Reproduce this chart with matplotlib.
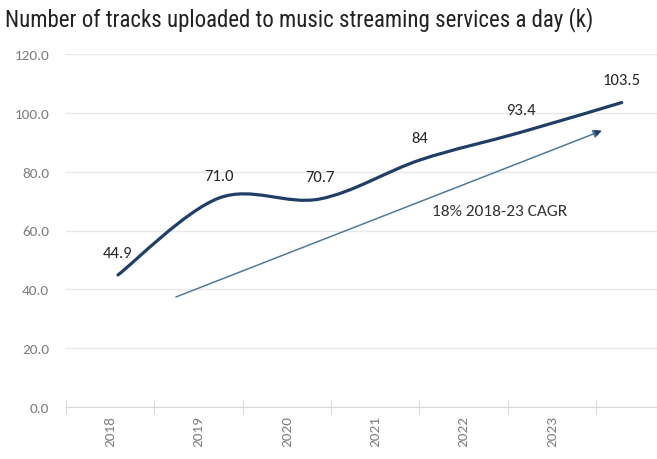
import numpy as np
import matplotlib.pyplot as plt
from matplotlib.path import Path
from matplotlib.patches import PathPatch

# Datos del grafico
anios = ['2018', '2019', '2020', '2021', '2022', '2023']
pistas = [44.9, 71.0, 70.7, 84.0, 93.4, 103.5]
etiquetas = ['44.9', '71.0', '70.7', '84', '93.4', '103.5']
yticks = [0, 20, 40, 60, 80, 100, 120]

azul = '#1f3f66'
gris = '#7f7f7f'
fuente = ['Carlito', 'Open Sans']

fig = plt.figure(figsize=(6.57, 4.6), dpi=100)
ax = fig.add_axes([66 / 657, 1 - 408 / 460, 1 - 66 / 657, (408 - 55) / 460])

# eje de categorias
ax.set_xlim(-0.5, 6.19)
ax.set_ylim(0, 120)
ax.set_xticks(range(len(anios)))
ax.set_xticklabels(anios, rotation=90, color=gris, fontsize=11, family=fuente)
ax.set_xticks(np.arange(-0.5, 6.0, 1.0), minor=True)
ax.tick_params(axis='x', which='major', length=0, pad=6)
ax.tick_params(axis='x', which='minor', length=10, direction='inout', color='#d0d0d0')
ax.set_yticks(yticks)
ax.set_yticklabels([f'{v:.1f}' for v in yticks], color=gris, fontsize=11, family=fuente)
ax.tick_params(axis='y', length=0, pad=12)
ax.grid(axis='y', color='#e8e8e8', linewidth=1)
for s in ['top', 'right', 'left']:
    ax.spines[s].set_visible(False)
ax.spines['bottom'].set_color('#d9d9d9')
ax.set_axisbelow(True)

# la linea va en otro eje x (como en la imagen original)
ax2 = ax.twiny()
ax2.set_xlim(-0.516, 5.35)
ax2.set_ylim(0, 120)
ax2.axis('off')

x = np.arange(len(pistas))
y = np.array(pistas)
# curva suavizada (estilo Excel) con Bezier
verts = [(x[0], y[0])]
codes = [Path.MOVETO]
n = len(x)
for i in range(n - 1):
    p0 = np.array([x[max(i - 1, 0)], y[max(i - 1, 0)]])
    p1 = np.array([x[i], y[i]])
    p2 = np.array([x[i + 1], y[i + 1]])
    p3 = np.array([x[min(i + 2, n - 1)], y[min(i + 2, n - 1)]])
    c1 = p1 + (p2 - p0) / 6
    c2 = p2 - (p3 - p1) / 6
    verts += [tuple(c1), tuple(c2), tuple(p2)]
    codes += [Path.CURVE4] * 3
ax2.add_patch(PathPatch(Path(verts, codes), facecolor='none', edgecolor=azul,
                        linewidth=2.3, capstyle='round'))

for xi, yi, t in zip(x, y, etiquetas):
    ax2.annotate(t, (xi, yi), xytext=(0, 16), textcoords='offset points',
                 ha='center', va='center', fontsize=12, color='#262626', family=fuente)

# flecha CAGR
ax2.annotate('', xy=(4.80, 93.9), xytext=(0.575, 37.4),
             arrowprops=dict(arrowstyle='-|>', color='#4f7a9a', lw=1.1,
                             mutation_scale=12, shrinkA=0, shrinkB=0))
ax2.annotate('', xy=(4.80, 93.9), xytext=(4.70, 92.6),
             arrowprops=dict(arrowstyle='-|>', color=azul, lw=0.1,
                             mutation_scale=12, shrinkA=0, shrinkB=0))
ax2.text(3.12, 66.7, '18% 2018-23 CAGR', fontsize=12.5, color='#333333',
         va='center', ha='left', family=fuente)

fig.text(5 / 657, 1 - 20 / 460, 'Number of tracks uploaded to music streaming services a day (k)',
         fontsize=16.5, color='#222222', va='center', ha='left', family=['Roboto Condensed', 'DejaVu Sans'])

plt.savefig('out.png', dpi=100)
